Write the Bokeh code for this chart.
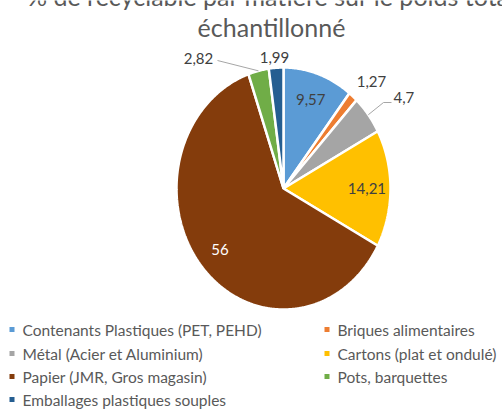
import numpy as np
from bokeh.plotting import figure
from bokeh.models import Range1d
from bokeh.core.properties import value
from bokeh.embed import file_html
from bokeh.resources import INLINE

# ---- data ----
title_lines = ["% de recyclable par matière sur le poids total", "échantillonné"]
categories = [
    "Contenants Plastiques (PET, PEHD)",
    "Briques alimentaires",
    "Métal (Acier et Aluminium)",
    "Cartons (plat et ondulé)",
    "Papier (JMR, Gros magasin)",
    "Pots, barquettes",
    "Emballages plastiques souples",
]
values = [9.57, 1.27, 4.7, 14.21, 56, 2.82, 1.99]
value_labels = ["9,57", "1,27", "4,7", "14,21", "56", "2,82", "1,99"]
colors = ["#5B9BD5", "#ED7D31", "#A5A5A5", "#FFC000", "#843C0C", "#70AD47", "#255E91"]

# ---- layout (pixel-like coordinates, y downward) ----
W, H = 502, 410
CX, CY, RX, RY = 283, 188, 107, 121
FONT = "Lato"

p = figure(width=W, height=H, output_backend="svg", toolbar_location=None,
           x_range=Range1d(0, W), y_range=Range1d(H, 0),
           min_border=0, outline_line_color=None)
p.axis.visible = False
p.grid.visible = False
p.background_fill_color = "white"
p.border_fill_color = "white"

vals = np.array(values, dtype=float)
frac = vals / vals.sum()
ends = np.cumsum(frac) * 360.0
starts = ends - frac * 360.0
mids = (starts + ends) / 2


def pt(angle_deg, r=1.0):
    a = np.radians(angle_deg)
    return CX + RX * r * np.sin(a), CY - RY * r * np.cos(a)


xs, ys = [], []
for a0, a1 in zip(starts, ends):
    t = np.linspace(a0, a1, max(3, int(a1 - a0) * 2 + 2))
    ex, ey = pt(t)
    xs.append([CX] + list(ex) + [CX])
    ys.append([CY] + list(ey) + [CY])

p.patches(xs, ys, fill_color=colors, line_color="white", line_width=2.5)

# ---- data labels ----
inside = [0, 3, 4]
for i in inside:
    lx, ly = pt(mids[i], 0.78)
    p.text([lx], [ly], text=[value_labels[i]], text_font=value(FONT),
           text_font_size="15px", text_align="center", text_baseline="middle",
           text_color="white" if i == 4 else "#404040")

# outside labels (positions set manually as in the original)
outside = {1: (371, 81, "center"), 2: (393, 97, "left"),
           5: (198, 58, "center"), 6: (274, 57, "center")}
for i, (lx, ly, al) in outside.items():
    p.text([lx], [ly], text=[value_labels[i]], text_font=value(FONT),
           text_font_size="15px", text_align=al, text_baseline="middle",
           text_color="#404040")

# leader lines
ex, ey = pt(mids[2])
p.line([ex, 383, 391], [ey, 102, 102], line_color="#A6A6A6", line_width=1)
ex, ey = pt(mids[5])
p.line([217, ex], [60, ey], line_color="#A6A6A6", line_width=1)

# ---- title (first line is cut by the top edge, as in the original) ----
p.text([271], [-5], text=[title_lines[0]], text_font=value(FONT), text_font_size="25px",
       text_align="center", text_baseline="middle", text_color="#595959")
p.text([271], [26], text=[title_lines[1]], text_font=value(FONT), text_font_size="25px",
       text_align="center", text_baseline="middle", text_color="#595959")

# ---- legend ----
col_x = [11.5, 326.5]
row_y = [329, 353, 376, 399]
for k, (cat, col) in enumerate(zip(categories, colors)):
    r, c = divmod(k, 2)
    mx, my = col_x[c], row_y[r]
    p.scatter([mx], [my], marker="square", size=5, fill_color=col, line_color=None)
    p.text([mx + 10.5], [my], text=[cat], text_font=value(FONT), text_font_size="15.5px",
           text_align="left", text_baseline="middle", text_color="#595959")

open("out.html", "w").write(file_html(p, INLINE))
